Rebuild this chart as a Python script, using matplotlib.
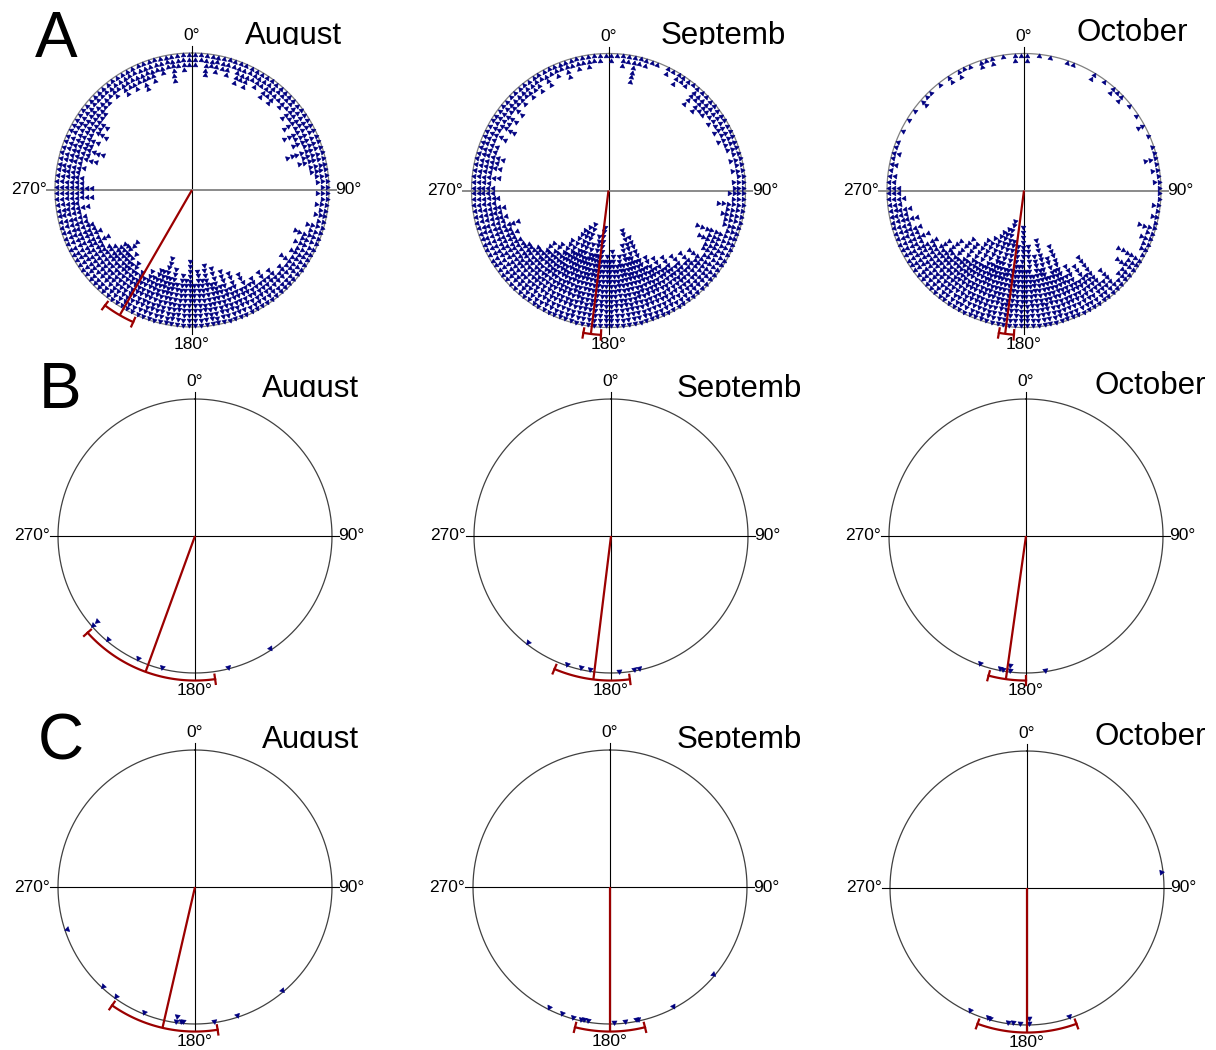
import numpy as np
import matplotlib
matplotlib.use("Agg")
import matplotlib.pyplot as plt
from matplotlib.transforms import Bbox, TransformedBbox

plt.rcParams['font.family'] = ['Liberation Sans', 'DejaVu Sans']

# ---------------- data ----------------
months = ["August", "Septemb", "October"]
row_letters = ["A", "B", "C"]
tick_labels = ["0°", "90°", "180°", "270°"]

# Row A: stacked counts per 2.5-degree bin (starting at 0°, clockwise)
bin_width = 2.5
aug_counts = [3, 2, 5, 3, 4, 3, 4, 2, 5, 4, 5, 3,
              4, 3, 5, 4, 5, 3, 4, 3, 5, 4, 6, 4,
              7, 5, 6, 4, 8, 5, 6, 4, 4, 3, 3, 2,
              3, 2, 3, 2, 3, 2, 4, 3, 6, 4, 5, 4,
              5, 4, 6, 4, 5, 4, 6, 5, 7, 5, 7, 6,
              9, 6, 10, 7, 11, 8, 12, 9, 13, 10, 12, 9,
              14, 10, 11, 9, 12, 10, 14, 11, 11, 9, 10, 8,
              9, 8, 10, 9, 11, 10, 13, 11, 11, 9, 8, 7,
              9, 7, 8, 7, 7, 6, 6, 5, 7, 5, 8, 6,
              8, 6, 6, 5, 6, 5, 8, 6, 9, 6, 7, 5,
              8, 6, 7, 5, 5, 4, 4, 3, 4, 3, 5, 4,
              5, 4, 6, 4, 5, 3, 4, 3, 6, 3, 4, 3]
sep_counts = [2, 1, 3, 2, 6, 2, 2, 1, 1, 0, 2, 1,
              3, 2, 2, 1, 5, 3, 5, 4, 4, 3, 4, 3,
              4, 3, 4, 3, 3, 2, 3, 2, 3, 2, 3, 3,
              4, 3, 6, 4, 5, 4, 4, 3, 9, 6, 8, 6,
              6, 5, 8, 6, 9, 7, 10, 8, 11, 9, 12, 10,
              13, 11, 18, 13, 20, 14, 17, 13, 15, 13, 16, 14,
              15, 14, 21, 15, 19, 15, 17, 14, 21, 15, 20, 14,
              19, 13, 16, 12, 14, 11, 13, 10, 10, 9, 9, 8,
              8, 7, 8, 7, 9, 6, 7, 6, 7, 5, 6, 5,
              5, 4, 6, 4, 6, 5, 6, 4, 4, 3, 5, 3,
              6, 4, 5, 3, 5, 3, 4, 3, 4, 3, 4, 2,
              4, 2, 3, 2, 4, 2, 3, 2, 3, 2, 2, 1]
oct_counts = [2, 0, 1, 0, 1, 0, 0, 1, 1, 0, 0, 0,
              2, 0, 1, 0, 2, 1, 2, 0, 1, 0, 1, 0,
              2, 0, 1, 0, 1, 1, 3, 1, 2, 1, 2, 1,
              1, 1, 2, 1, 2, 1, 4, 2, 3, 2, 2, 1,
              6, 3, 5, 3, 3, 2, 6, 4, 11, 7, 10, 7,
              11, 9, 16, 11, 14, 10, 18, 12, 15, 11, 17, 12,
              21, 13, 17, 12, 18, 12, 22, 13, 20, 12, 19, 11,
              17, 11, 16, 10, 14, 9, 14, 9, 12, 8, 10, 7,
              8, 5, 7, 5, 6, 4, 6, 4, 5, 3, 4, 3,
              3, 2, 2, 1, 2, 1, 2, 1, 1, 0, 1, 0,
              1, 0, 1, 0, 2, 1, 1, 0, 1, 0, 2, 0,
              2, 1, 1, 0, 2, 1, 2, 0, 1, 0, 2, 1]

# Rows B and C: individual directions (degrees)
b_aug = [229, 229, 220, 205, 194, 166, 146]
b_sep = [218, 199, 193, 189, 176.5, 170, 168]
b_oct = [200, 191, 190, 187, 187, 172]
c_aug = [252, 223, 216, 202, 188, 188, 186, 185, 172, 162, 140]
c_sep = [207, 201, 196, 192.5, 191, 189.5, 178.5, 173.5, 169, 168, 152, 130]
c_oct = [83, 205, 197, 196, 188, 186, 183, 179, 179, 162]

# mean direction and 95% confidence interval (low, high)
a_means = [210, 187, 187.5]
a_ci = [(204, 217), (183, 190), (184, 190)]
b_means = [200, 187, 188]
b_ci = [(172, 228), (172.5, 203), (180, 195)]
c_means = [193, 180, 180]
c_ci = [(171, 215), (166, 194), (160, 200)]

# ---------------- drawing ----------------
W, H = 1216, 1050
fig = plt.figure(figsize=(12.16, 10.5), dpi=100)
fig.patch.set_facecolor('white')

R_PX = 137
HALF = 1.3
NAVY = '#000080'
RED = '#9b0000'

centers = [[(192, 190), (608.5, 190.5), (1024, 190.5)],
           [(195, 536), (611, 536), (1026, 536)],
           [(195, 887), (610, 887), (1027, 888)]]


def make_ax(cx, cy):
    s = 2 * HALF * R_PX
    ax = fig.add_axes([(cx - s / 2) / W, (H - cy - s / 2) / H, s / W, s / H])
    ax.set_xlim(-HALF, HALF)
    ax.set_ylim(-HALF, HALF)
    ax.set_facecolor('none')
    ax.axis('off')
    return ax


def pol(theta_deg, r):
    t = np.radians(theta_deg)
    return r * np.sin(t), r * np.cos(t)


def draw_frame(ax, circle_color, hcolor, hlw):
    t = np.linspace(0, 360, 721)
    x, y = pol(t, 1.0)
    ax.plot(x, y, color=circle_color, lw=0.9, zorder=1, clip_on=False)
    ax.plot([0, 0], [-1.05, 1.05], color='black', lw=0.8, zorder=1, clip_on=False)
    ax.plot([-1.06, 1.05], [0, 0], color=hcolor, lw=hlw, zorder=1, clip_on=False)
    fs = 12.5
    ax.text(0, 1.125, tick_labels[0], ha='center', va='center', fontsize=fs)
    ax.text(1.045, 0, tick_labels[1], ha='left', va='center', fontsize=fs)
    ax.text(0, -1.125, tick_labels[2], ha='center', va='center', fontsize=fs)
    ax.text(-1.06, 0, tick_labels[3], ha='right', va='center', fontsize=fs)


def stack(ax, angles, counts, s, r0=0.985, step=0.036):
    for a, n in zip(angles, counts):
        if n <= 0:
            continue
        r = r0 - step * np.arange(n)
        x, y = pol(a, r)
        ax.scatter(x, y, s=s, marker=(3, 0, -a), color=NAVY,
                   edgecolors=NAVY, linewidths=0.4, zorder=3, clip_on=False)


def mean_ci(ax, mean, lo, hi, rb=1.055):
    x, y = pol(mean, rb)
    ax.plot([0, x], [0, y], color=RED, lw=1.6, zorder=5, clip_on=False,
            solid_capstyle='butt')
    t = np.linspace(lo, hi, 80)
    ax.plot(*pol(t, rb), color=RED, lw=1.6, zorder=5, clip_on=False)
    for e in (lo, hi):
        ee = np.array([e, e])
        ax.plot(*pol(ee, np.array([1.022, 1.09])), color=RED, lw=1.6,
                zorder=5, clip_on=False)


def clipped_text(x, y_base, s, clip_bottom, fontsize=22.5):
    t = fig.text(x / W, 1 - y_base / H, s, fontsize=fontsize,
                 ha='left', va='baseline')
    bb = TransformedBbox(Bbox.from_extents(0, 1 - clip_bottom / H, 1, 1),
                         fig.transFigure)
    t.set_clip_box(bb)
    t.set_clip_on(True)
    return t


row_a_counts = [aug_counts, sep_counts, oct_counts]
row_b = [b_aug, b_sep, b_oct]
row_c = [c_aug, c_sep, c_oct]

for r in range(3):
    for c in range(3):
        cx, cy = centers[r][c]
        ax = make_ax(cx, cy)
        if r == 0:
            draw_frame(ax, '#808080', '#8a8a8a', 1.4)
            counts = row_a_counts[c]
            angles = np.arange(len(counts)) * bin_width + bin_width / 2
            stack(ax, angles, counts, s=15)
            mean_ci(ax, a_means[c], *a_ci[c])
        else:
            draw_frame(ax, '#404040', 'black', 0.8)
            vals = row_b[c] if r == 1 else row_c[c]
            u, n = np.unique(np.array(vals, dtype=float), return_counts=True)
            stack(ax, u, n, s=18)
            means = b_means if r == 1 else c_means
            cis = b_ci if r == 1 else c_ci
            mean_ci(ax, means[c], *cis[c])

# month titles (clipped along their lower edge as in the original)
title_pos = [
    [(245, 44, 45), (661, 44, 45), (1077, 41, 45)],
    [(262, 397, 397), (677, 397, 397), (1094, 394, 397)],
    [(262, 748, 748), (677, 748, 748), (1094, 745, 748)],
]
for r in range(3):
    for c in range(3):
        x, yb, clip = title_pos[r][c]
        clipped_text(x, yb, months[c], clip)

# row letters
letter_pos = [(35, 57), (39, 408), (38, 760)]
for (x, yb), L in zip(letter_pos, row_letters):
    fig.text(x / W, 1 - yb / H, L, fontsize=46, ha='left', va='baseline')

fig.savefig("out.png", dpi=100, facecolor='white')
